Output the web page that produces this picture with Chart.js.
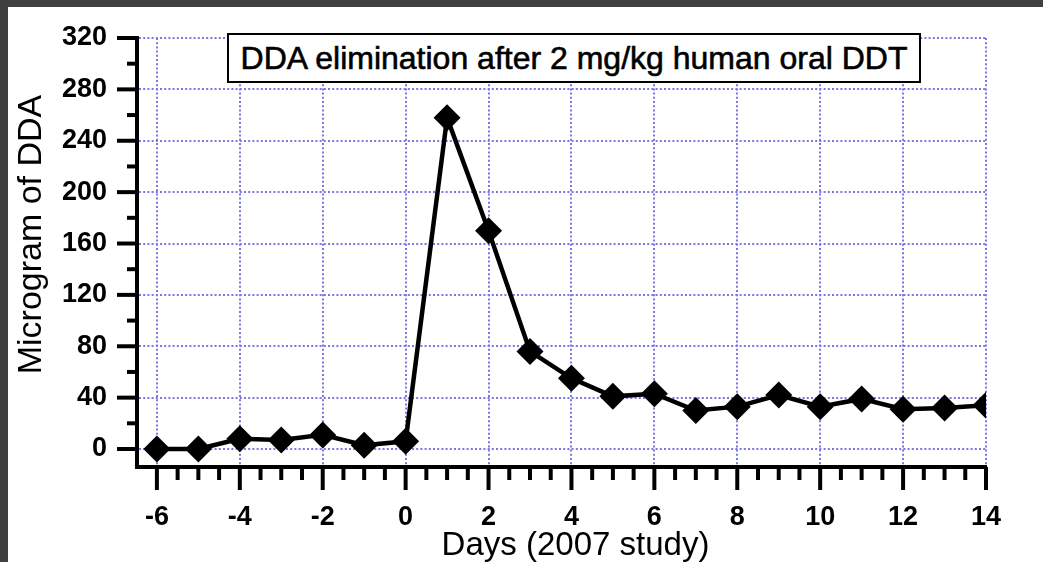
<!DOCTYPE html>
<html>
<head>
<meta charset="utf-8">
<script src="https://cdn.jsdelivr.net/npm/chart.js@4.4.1/dist/chart.umd.min.js"></script>
<style>
  html, body { margin: 0; padding: 0; }
  body { width: 1043px; height: 562px; background: #404040; position: relative; overflow: hidden; }
  .frame { position: absolute; left: 8px; top: 7px; width: 1035px; height: 555px; background: #fff; }
  .frame canvas { display: block; }
  .chart-title {
    position: absolute; left: 219px; top: 26px; width: 690px; height: 46px;
    border: 2px solid #000; background: #fff;
    font: 32px "Liberation Sans", Arial, sans-serif; color: #000;
    -webkit-text-stroke: 0.6px #000;
    text-align: center; line-height: 46px; white-space: nowrap;
  }
</style>
</head>
<body>
<div class="frame">
  <canvas id="ddaChart" width="1035" height="555"></canvas>
  <div class="chart-title">DDA elimination after 2 mg/kg human oral DDT</div>
</div>
<script>
// dias relativos à dose e microgramas de DDA
const days = [-6, -5, -4, -3, -2, -1, 0, 1, 2, 3, 4, 5, 6, 7, 8, 9, 10, 11, 12, 13, 14];
const ddaMicrograms = [0, 0, 8, 7, 11, 3, 6, 258, 170, 76, 55, 41, 43, 30, 33, 42, 33, 39, 31, 32, 34];
const xTickValues = [-6, -4, -2, 0, 2, 4, 6, 8, 10, 12, 14];
const yTickValues = [0, 40, 80, 120, 160, 200, 240, 280, 320];
const xTitle = 'Days (2007 study)';
const yTitle = 'Microgram of DDA';

const FONT = '"Liberation Sans", Arial, sans-serif';
const gridColor = 'rgb(120, 120, 228)';

// tracinhos dos eixos e títulos dos eixos (um pouco fora do centro, como no original)
const axisDecor = {
  id: 'axisDecor',
  afterDraw(chart) {
    const { ctx, scales: { x, y } } = chart;
    ctx.save();
    ctx.strokeStyle = '#000';
    ctx.lineCap = 'butt';
    ctx.lineWidth = 4;
    for (let v = -6; v <= 14; v += 0.5) {
      const px = x.getPixelForValue(v);
      const major = v % 2 === 0;
      ctx.beginPath();
      ctx.moveTo(px, y.bottom);
      ctx.lineTo(px, y.bottom + (major ? 23 : 13));
      ctx.stroke();
    }
    for (let v = 0; v <= 320; v += 20) {
      const py = y.getPixelForValue(v);
      const major = v % 40 === 0;
      ctx.beginPath();
      ctx.moveTo(x.left, py);
      ctx.lineTo(x.left - (major ? 20 : 10), py);
      ctx.stroke();
    }

    ctx.fillStyle = '#000';
    ctx.textAlign = 'center';
    ctx.textBaseline = 'alphabetic';
    ctx.font = '33px ' + FONT;
    ctx.fillText(xTitle, (x.left + x.right) / 2 + 14, x.bottom - 7);

    ctx.font = '34px ' + FONT;
    ctx.translate(y.left + 33, (y.top + y.bottom) / 2 - 18);
    ctx.rotate(-Math.PI / 2);
    ctx.fillText(yTitle, 0, 0);
    ctx.restore();
  }
};

new Chart(document.getElementById('ddaChart'), {
  type: 'line',
  data: {
    datasets: [{
      data: days.map((d, i) => ({ x: d, y: ddaMicrograms[i] })),
      borderColor: '#000',
      backgroundColor: '#000',
      borderWidth: 4.5,
      tension: 0,
      pointStyle: 'rectRot',
      pointRadius: 13.5,
      pointBackgroundColor: '#000',
      pointBorderWidth: 0,
    }],
  },
  options: {
    responsive: false,
    animation: false,
    layout: { padding: { left: 0, right: 57, top: 31, bottom: 0 } },
    plugins: { legend: { display: false }, tooltip: { enabled: false } },
    scales: {
      x: {
        type: 'linear',
        min: -6.48,
        max: 14,
        afterBuildTicks: (scale) => { scale.ticks = xTickValues.map(v => ({ value: v })); },
        afterFit: (scale) => { scale.height = 95; },
        ticks: { color: '#000', font: { family: FONT, size: 27, weight: 'bold' }, padding: 0, maxRotation: 0 },
        grid: { color: gridColor, lineWidth: 2, drawTicks: true, tickLength: 34, tickColor: 'transparent' },
        border: { display: true, color: '#000', width: 4, dash: [2, 2.2] },
        title: { display: false },
      },
      y: {
        min: -14,
        max: 320,
        afterBuildTicks: (scale) => { scale.ticks = yTickValues.map(v => ({ value: v })); },
        afterFit: (scale) => { scale.width = 129; },
        ticks: { color: '#000', font: { family: FONT, size: 27, weight: 'bold' }, padding: 0 },
        grid: { color: gridColor, lineWidth: 2, drawTicks: true, tickLength: 30, tickColor: 'transparent' },
        border: { display: true, color: '#000', width: 4, dash: [2, 2.2] },
        title: { display: false },
      },
    },
  },
  plugins: [axisDecor],
});
</script>
</body>
</html>
